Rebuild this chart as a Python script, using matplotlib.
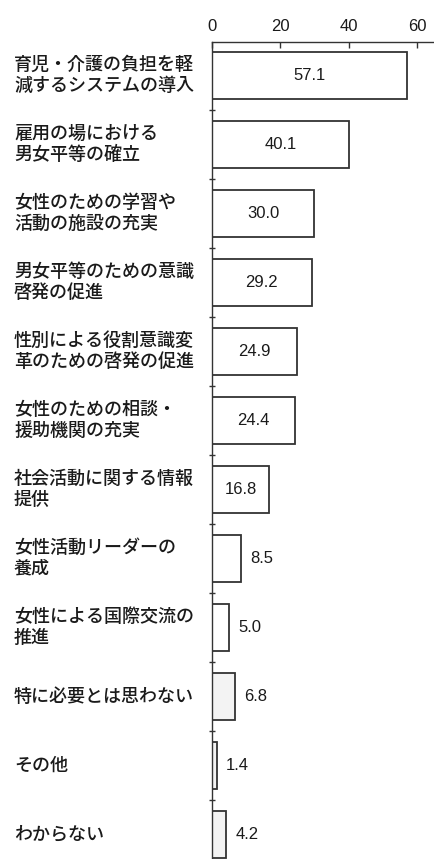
import matplotlib
matplotlib.use("Agg")
import matplotlib.pyplot as plt
import matplotlib.transforms as mtransforms

plt.rcParams['font.family'] = ['Noto Sans CJK JP', 'DejaVu Sans']

categories = [
    "育児・介護の負担を軽\n減するシステムの導入",
    "雇用の場における\n男女平等の確立",
    "女性のための学習や\n活動の施設の充実",
    "男女平等のための意識\n啓発の促進",
    "性別による役割意識変\n革のための啓発の促進",
    "女性のための相談・\n援助機関の充実",
    "社会活動に関する情報\n提供",
    "女性活動リーダーの\n養成",
    "女性による国際交流の\n推進",
    "特に必要とは思わない",
    "その他",
    "わからない",
]
values = [57.1, 40.1, 30.0, 29.2, 24.9, 24.4, 16.8, 8.5, 5.0, 6.8, 1.4, 4.2]
xticks = [0, 20, 40, 60]

fill_colors = ["white"] * 9 + ["#f3f3f3"] * 3
ink = "#333333"
txt = "#1a1a1a"

fig = plt.figure(figsize=(4.34, 8.59), dpi=100)
ax = fig.add_axes([212/434, 0.0, 1 - 212/434, 1 - 42/859])

n = len(values)
pos = list(range(n))
ax.barh(pos, values, height=0.68, color=fill_colors, edgecolor=ink, linewidth=1.3)

ax.set_xlim(0, 65)
ax.set_ylim(n - 1 + 0.355, -0.486)

for s in ["right", "bottom"]:
    ax.spines[s].set_visible(False)
ax.spines["top"].set_color(ink)
ax.spines["left"].set_color(ink)
ax.spines["top"].set_linewidth(1.0)
ax.spines["left"].set_linewidth(1.0)

num_font = ['Liberation Sans', 'DejaVu Sans']

ax.xaxis.tick_top()
ax.set_xticks(xticks)
ax.set_xticklabels([str(t) for t in xticks], family=num_font,
                   fontsize=12, color=txt)
ax.tick_params(axis='x', direction='in', length=4, width=1.0, color=ink, pad=6)

ax.set_yticks([p + 0.5 for p in pos[:-1]])
ax.set_yticklabels([])
ax.tick_params(axis='y', direction='inout', length=5, width=1.0, color=ink)

trans = mtransforms.blended_transform_factory(fig.transFigure, ax.transData)
for p, lab in zip(pos, categories):
    ax.text(14/434, p, lab, transform=trans, ha='left', va='center',
            fontsize=13, color=txt, linespacing=1.2, fontweight='medium')

for p, v in zip(pos, values):
    if v >= 15:
        ax.text(v / 2, p, f"{v:.1f}", ha='center', va='center', fontsize=12,
                family=num_font, color=txt)
    else:
        ax.text(v + 2.6, p, f"{v:.1f}", ha='left', va='center', fontsize=12,
                family=num_font, color=txt)

fig.savefig("out.png", dpi=100, facecolor="white")
